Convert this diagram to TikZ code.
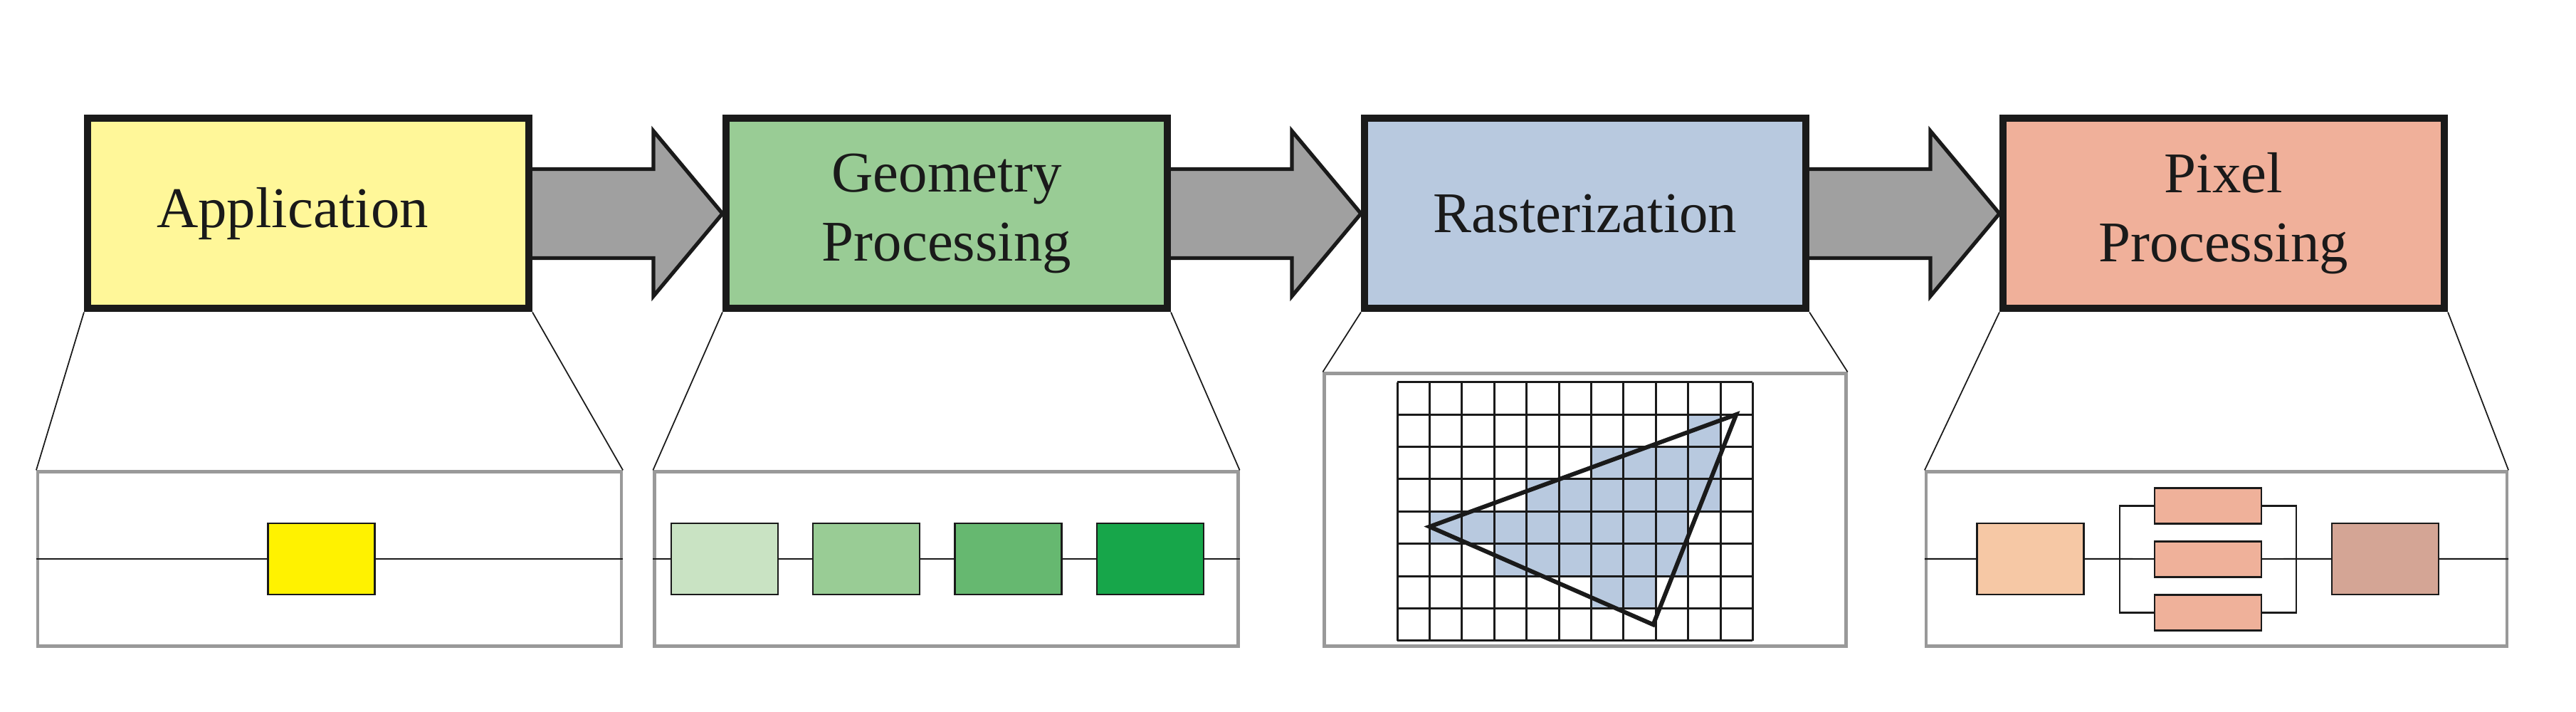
\documentclass[tikz,border=0pt]{standalone}
\usepackage{fontspec}
\setmainfont{Liberation Serif}
\usetikzlibrary{calc,backgrounds}
\definecolor{ink}{HTML}{1A1A1A}
\definecolor{appY}{HTML}{FFF799}
\definecolor{appYs}{HTML}{FFF200}
\definecolor{geoG}{HTML}{99CC95}
\definecolor{geoA}{HTML}{C9E3C3}
\definecolor{geoB}{HTML}{99CC95}
\definecolor{geoC}{HTML}{66B870}
\definecolor{geoD}{HTML}{17A64A}
\definecolor{rasB}{HTML}{B8C9DF}
\definecolor{pixR}{HTML}{F0B09A}
\definecolor{pixA}{HTML}{F6C8A5}
\definecolor{pixB}{HTML}{EFB19A}
\definecolor{pixC}{HTML}{D4A595}
\definecolor{arrowgray}{HTML}{A0A0A0}
\definecolor{panelgray}{HTML}{999999}
\begin{document}
\begin{tikzpicture}[
  stage/.style={draw=ink, line width=2.85pt, minimum width=6.2cm, minimum height=2.67cm,
    inner sep=0pt, align=center, font=\fontsize{23}{27.6}\selectfont, text=ink},
  flowarrow/.style={fill=arrowgray, draw=ink, line width=1.5pt},
  panel/.style={draw=panelgray, line width=1.2pt, fill=white, inner sep=0pt},
  unit/.style={draw=ink, line width=0.6pt, minimum width=1.5cm, minimum height=1.0cm, inner sep=0pt},
  halfunit/.style={unit, minimum height=0.5cm},
  wire/.style={draw=ink, line width=0.6pt},
  zoomline/.style={draw=ink, line width=0.5pt},
  gridline/.style={draw=ink, line width=0.85pt},
  tri/.style={draw=ink, line width=1.7pt},
]
\useasboundingbox (0,0) rectangle (36.19,10);

% stages
\node[stage, fill=appY] (app) at (4.33,7.0) {Application\hspace*{0.44cm}};
\node[stage, fill=geoG] (geo) at (13.30,7.0) {Geometry\\Processing};
\node[stage, fill=rasB] (ras) at (22.27,7.0) {Rasterization};
\node[stage, fill=pixR] (pix) at (31.24,7.0) {Pixel\\Processing};

% arrows between stages
\begin{pgfonlayer}{background}
\foreach \a/\b in {app/geo, geo/ras, ras/pix}{
  \draw[flowarrow] ($(\a.east)+(-0.2,0.625)$) -- ($(\b.west)+(-0.97,0.625)$)
    -- ($(\b.west)+(-0.97,1.16)$) -- (\b.west) -- ($(\b.west)+(-0.97,-1.16)$)
    -- ($(\b.west)+(-0.97,-0.625)$) -- ($(\a.east)+(-0.2,-0.625)$) -- cycle;
}
\end{pgfonlayer}

% panels
\node[panel, minimum width=8.2cm, minimum height=2.45cm] (appP) at (4.63,2.15) {};
\node[panel, minimum width=8.2cm, minimum height=2.45cm] (geoP) at (13.295,2.15) {};
\node[panel, minimum width=7.33cm, minimum height=3.83cm] (rasP) at (22.27,2.84) {};
\node[panel, minimum width=8.16cm, minimum height=2.45cm] (pixP) at (31.14,2.15) {};

% zoom lines
\foreach \s/\p in {app/appP, geo/geoP, ras/rasP, pix/pixP}{
  \draw[zoomline] (\s.south west) -- (\p.north west);
  \draw[zoomline] (\s.south east) -- (\p.north east);
}

% application panel
\node[unit, fill=appYs] (a1) at (4.515,2.15) {};
\draw[wire] (appP.west) -- (a1) -- (appP.east);

% geometry panel
\node[unit, fill=geoA] (g1) at (10.18,2.15) {};
\node[unit, fill=geoB] (g2) at (12.17,2.15) {};
\node[unit, fill=geoC] (g3) at (14.165,2.15) {};
\node[unit, fill=geoD] (g4) at (16.16,2.15) {};
\draw[wire] (geoP.west) -- (g1) -- (g2) -- (g3) -- (g4) -- (geoP.east);

% rasterization panel
\begin{scope}[shift={(19.63,1.0)}, x=0.454cm, y=0.454cm]
  \fill[rasB] (9,6) rectangle (10,7);
  \fill[rasB] (6,5) rectangle (10,6);
  \fill[rasB] (4,4) rectangle (10,5);
  \fill[rasB] (1,3) rectangle (9,4);
  \fill[rasB] (3,2) rectangle (9,3);
  \fill[rasB] (6,1) rectangle (8,2);
  \draw[gridline] (0,0) grid[step={(1,1)}] (11,8);
  \coordinate (tA) at (1.0,3.53);
  \coordinate (tB) at (10.49,7.0);
  \coordinate (tC) at (7.92,0.5);
  \draw[tri] (tA) -- (tB) -- (tC) -- cycle;
\end{scope}

% pixel panel
\node[unit, fill=pixA] (p1) at (28.525,2.15) {};
\node[unit, fill=pixC] (p3) at (33.51,2.15) {};
\node[halfunit, fill=pixB] (q1) at (31.02,2.895) {};
\node[halfunit, fill=pixB] (q2) at (31.02,2.145) {};
\node[halfunit, fill=pixB] (q3) at (31.02,1.395) {};
\coordinate (bl) at (29.78,2.15);
\coordinate (br) at (32.26,2.15);
\draw[wire] (pixP.west) -- (p1) -- (bl) -- (q2) -- (br) -- (p3) -- (pixP.east);
\draw[wire] (q1.west) -- (q1.west -| bl) -- (q3.west -| bl) -- (q3.west);
\draw[wire] (q1.east) -- (q1.east -| br) -- (q3.east -| br) -- (q3.east);
\end{tikzpicture}
\end{document}
